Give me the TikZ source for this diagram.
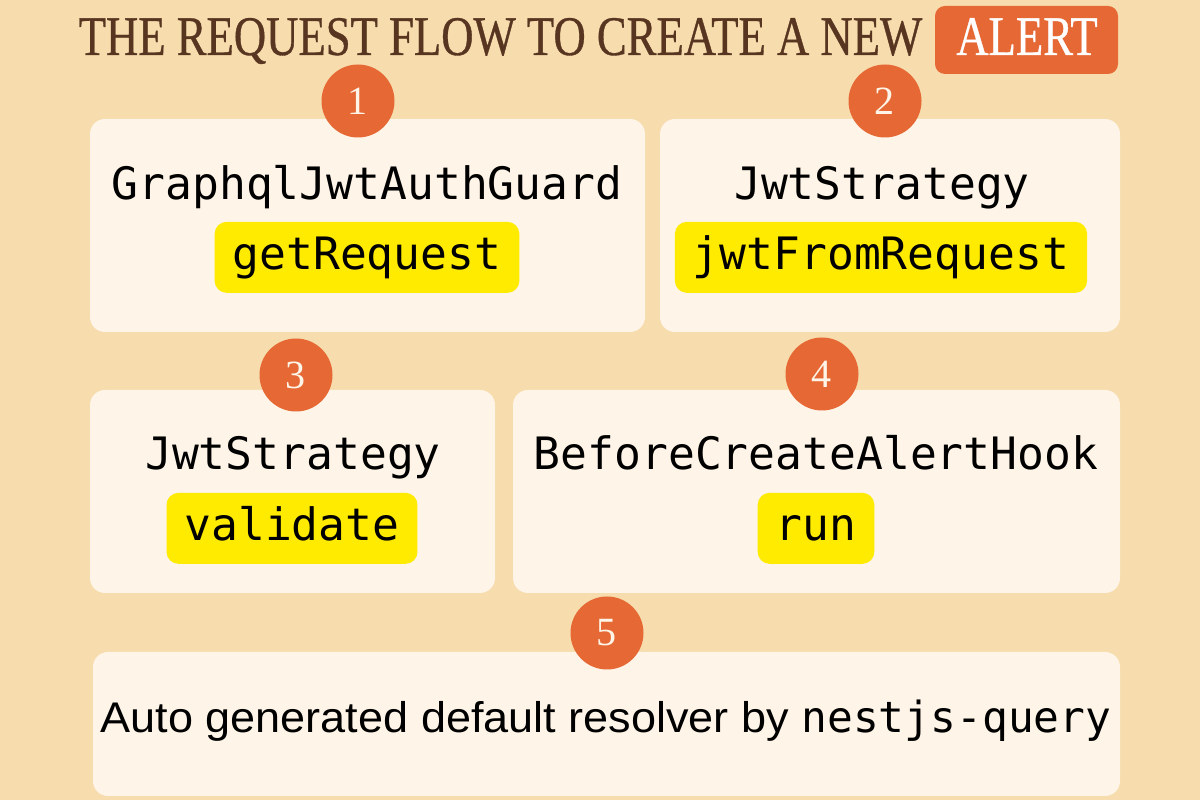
\documentclass[tikz,border=0pt]{standalone}
\usepackage{fontspec}
\usetikzlibrary{calc}
\setmainfont{Liberation Serif}
\setsansfont{Liberation Sans}
\setmonofont{DejaVu Sans Mono}
\newfontfamily\titlefont[FakeStretch=0.8,FakeBold=0.6]{Liberation Serif}
\newfontfamily\resolverfont[FakeStretch=1.05]{Liberation Sans}

\definecolor{pagebg}{HTML}{F7DCAD}
\definecolor{cardbg}{HTML}{FEF4E7}
\definecolor{badgeorange}{HTML}{E66935}
\definecolor{marker}{HTML}{FFEB00}
\definecolor{titlebrown}{HTML}{573520}

\tikzset{
  heading/.style={anchor=base west, inner sep=0pt, text=titlebrown,
    font=\titlefont\fontsize{15.9}{18}\selectfont},
  alertbox/.style={fill=badgeorange, rounded corners=1mm},
  badge/.style={circle, fill=badgeorange, minimum size=7.3mm, inner sep=0pt,
    text=cardbg, font=\rmfamily\fontsize{11.4}{13}\selectfont},
  classname/.style={anchor=base, inner sep=0pt,
    font=\ttfamily\fontsize{12.7}{15}\selectfont},
  method/.style={anchor=base, fill=marker, rounded corners=1.2mm,
    inner xsep=1.8mm, inner ysep=0pt, text height=13.7pt, text depth=6.5pt,
    font=\ttfamily\fontsize{12.7}{15}\selectfont},
}

\begin{document}
\begin{tikzpicture}[x=0.1mm,y=-0.1mm]
  \def\cardradius{1.5mm}
  \newcommand\card[3]{% {<name>}{<corner>}{<opposite corner>}
    \fill[cardbg, rounded corners=\cardradius] #2 rectangle #3;
    \coordinate (#1) at ($#2!0.5!#3$);
  }
  \newcommand\badgenum[3]{% {<name>}{<position>}{<number>}
    \node[badge] (#1) at #2 {#3};
  }

  \fill[pagebg] (0,0) rectangle (1200,800);
  \useasboundingbox (0,0) rectangle (1200,800);

  % title
  \node[heading] (title) at (78,55) {THE REQUEST FLOW TO CREATE A NEW};
  \fill[alertbox] (935,6) rectangle (1118,74);
  \node[heading, anchor=base, text=white] (alert) at (1027,55) {ALERT};

  % cards
  \card{card1}{(90,119)}{(645,332)}
  \card{card2}{(660,119)}{(1120,332)}
  \card{card3}{(90,390)}{(495,593)}
  \card{card4}{(513,390)}{(1120,593)}
  \card{card5}{(93,652)}{(1120,796)}

  \badgenum{num1}{(358,101)}{1}
  \badgenum{num2}{(885,101)}{2}
  \badgenum{num3}{(296,375)}{3}
  \badgenum{num4}{(822,374)}{4}
  \badgenum{num5}{(607,633)}{5}

  \node[classname] (guard) at (367,200) {GraphqlJwtAuthGuard};
  \node[method] (getreq) at (367,270) {getRequest};
  \node[classname] (strategy) at (882,200) {JwtStrategy};
  \node[method] (fromreq) at (881,270) {jwtFromRequest};
  \node[classname] (strategy2) at (293,470) {JwtStrategy};
  \node[method] (validate) at (292,541) {validate};
  \node[classname] (hook) at (816,470) {BeforeCreateAlertHook};
  \node[method] (run) at (816,541) {run};

  \node[anchor=base, inner sep=0pt, font=\resolverfont\fontsize{12.2}{15}\selectfont]
    (resolver) at (606,733)
    {Auto generated default resolver by {\ttfamily\fontsize{12.2}{15}\selectfont nestjs-query}};
\end{tikzpicture}
\end{document}
